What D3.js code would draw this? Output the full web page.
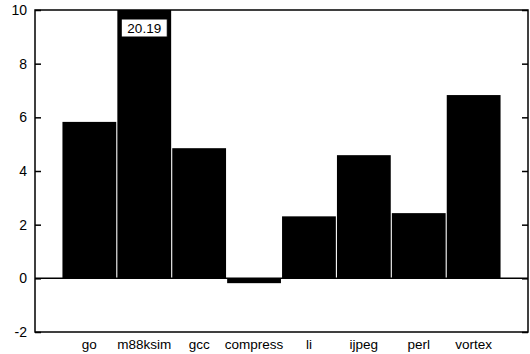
<!DOCTYPE html>
<html>
<head>
<meta charset="utf-8">
<script src="https://cdn.jsdelivr.net/npm/d3@7"></script>
<style>
  body { margin: 0; background: #fff; }
  text { font-family: "Liberation Sans", Arial, sans-serif; }
</style>
</head>
<body>
<div id="chart"></div>
<script>
// benchmark names and values (m88ksim goes off the scale)
const benchmarks = ["go", "m88ksim", "gcc", "compress", "li", "ijpeg", "perl", "vortex"];
const values = [5.83, 20.19, 4.85, -0.18, 2.31, 4.59, 2.43, 6.83];
const yTicks = [-2, 0, 2, 4, 6, 8, 10];

const width = 530, height = 354;
const margin = { top: 10, right: 2, bottom: 22, left: 35 };

const svg = d3.select("#chart").append("svg")
  .attr("width", width)
  .attr("height", height);

const x = d3.scaleBand()
  .domain(benchmarks)
  .range([margin.left, width - margin.right])
  .paddingInner(0.02)
  .paddingOuter(0.5);

const y = d3.scaleLinear()
  .domain([-2, 10])
  .range([height - margin.bottom, margin.top]);

// clip so the tall bar stops at the frame
svg.append("clipPath").attr("id", "plot")
  .append("rect")
  .attr("x", margin.left)
  .attr("y", margin.top)
  .attr("width", width - margin.left - margin.right)
  .attr("height", height - margin.top - margin.bottom);

const data = benchmarks.map((b, i) => ({ name: b, value: values[i] }));

svg.append("g")
  .attr("clip-path", "url(#plot)")
  .selectAll("rect")
  .data(data)
  .enter().append("rect")
  .attr("x", d => x(d.name))
  .attr("y", d => y(Math.max(0, d.value)))
  .attr("width", x.bandwidth())
  .attr("height", d => Math.abs(y(d.value) - y(0)))
  .attr("fill", "#000");

// zero line
svg.append("line")
  .attr("x1", margin.left).attr("x2", width - margin.right)
  .attr("y1", y(0)).attr("y2", y(0))
  .attr("stroke", "#000").attr("stroke-width", 1.5);

// frame
svg.append("rect")
  .attr("x", margin.left)
  .attr("y", margin.top)
  .attr("width", width - margin.left - margin.right)
  .attr("height", height - margin.top - margin.bottom)
  .attr("fill", "none")
  .attr("stroke", "#000")
  .attr("stroke-width", 1.5);

// left axis, ticks pointing inward
const yAxis = svg.append("g")
  .attr("transform", "translate(" + margin.left + ",0)")
  .call(d3.axisRight(y).tickValues(yTicks).tickSize(6).tickFormat(""));
yAxis.select(".domain").remove();
yAxis.selectAll("line").attr("stroke-width", 1.5);

// right axis ticks, inward too
const yAxisR = svg.append("g")
  .attr("transform", "translate(" + (width - margin.right) + ",0)")
  .call(d3.axisLeft(y).tickValues(yTicks).tickSize(6).tickFormat(""));
yAxisR.select(".domain").remove();
yAxisR.selectAll("line").attr("stroke-width", 1.5);

// y tick labels
svg.append("g").selectAll("text")
  .data(yTicks)
  .enter().append("text")
  .attr("x", margin.left - 8)
  .attr("y", d => y(d))
  .attr("dy", "0.35em")
  .attr("text-anchor", "end")
  .attr("font-size", 14)
  .text(d => d);

// x labels
svg.append("g").selectAll("text")
  .data(benchmarks)
  .enter().append("text")
  .attr("x", d => x(d) + x.bandwidth() / 2)
  .attr("y", height - 5)
  .attr("text-anchor", "middle")
  .attr("font-size", 13.5)
  .text(d => d);

// value label for the clipped bar
const tall = data.filter(d => d.value > 10);
const lbl = svg.append("g").selectAll("g")
  .data(tall)
  .enter().append("g")
  .attr("transform", d => "translate(" + (x(d.name) + x.bandwidth() / 2) + "," + (y(10) + 18) + ")");
lbl.append("rect")
  .attr("x", -23).attr("y", -9)
  .attr("width", 46).attr("height", 18)
  .attr("fill", "#fff")
  .attr("stroke", "#000");
lbl.append("text")
  .attr("dy", "0.36em")
  .attr("text-anchor", "middle")
  .attr("font-size", 13.5)
  .text(d => d.value.toFixed(2));
</script>
</body>
</html>
